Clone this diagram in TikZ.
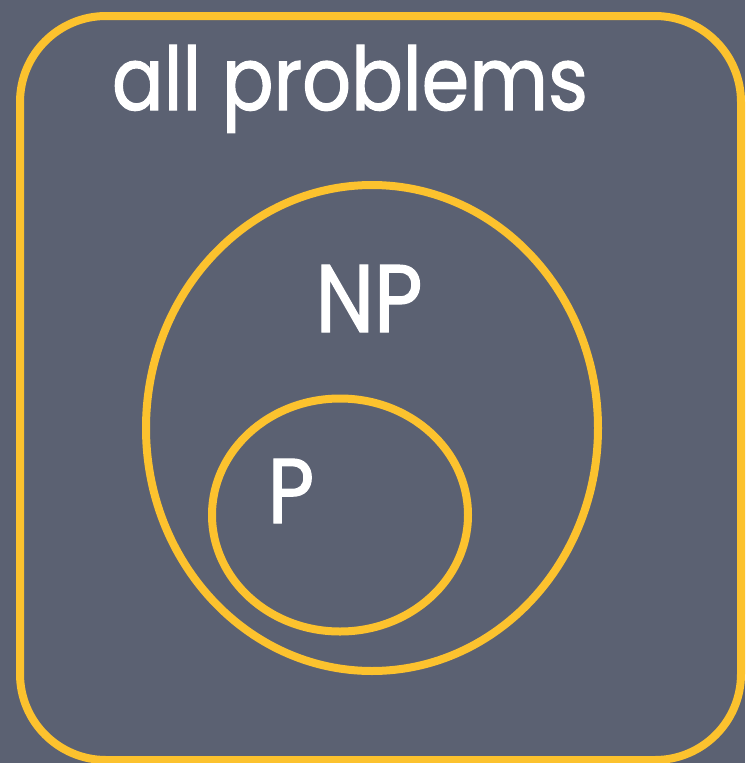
\documentclass[tikz,border=0pt]{standalone}
\usepackage{fontspec}
\usetikzlibrary{shapes.geometric}
\setmainfont{Poppins}[FakeBold=1.3, FakeStretch=0.87]
\definecolor{bg}{HTML}{5B6172}
\definecolor{gold}{HTML}{FCC22E}
\tikzset{
  ring/.style={draw=gold, line width=8pt},
  lbl/.style={text=white, inner sep=0pt, anchor=base}
}
\begin{document}
\begin{tikzpicture}[x=1pt,y=-1pt]
\useasboundingbox (0,0) rectangle (745,763);
\fill[bg] (0,0) rectangle (745,763);
\draw[ring, rounded corners=86pt] (20,16) rectangle (741,760);
\node[ring, ellipse, minimum width=452pt, minimum height=486pt, inner sep=0pt] (np) at (372,428) {};
\node[ring, ellipse, minimum width=256pt, minimum height=233pt, inner sep=0pt] (p) at (340,515) {};
\node[lbl, font=\fontsize{88}{88}\selectfont] (all) at (350,110) {all problems};
\node[lbl, font=\fontsize{96}{96}\selectfont] (nplbl) at (369,332) {NP};
\node[lbl, font=\fontsize{92}{92}\selectfont] (plbl) at (291,523) {P};
\end{tikzpicture}
\end{document}
